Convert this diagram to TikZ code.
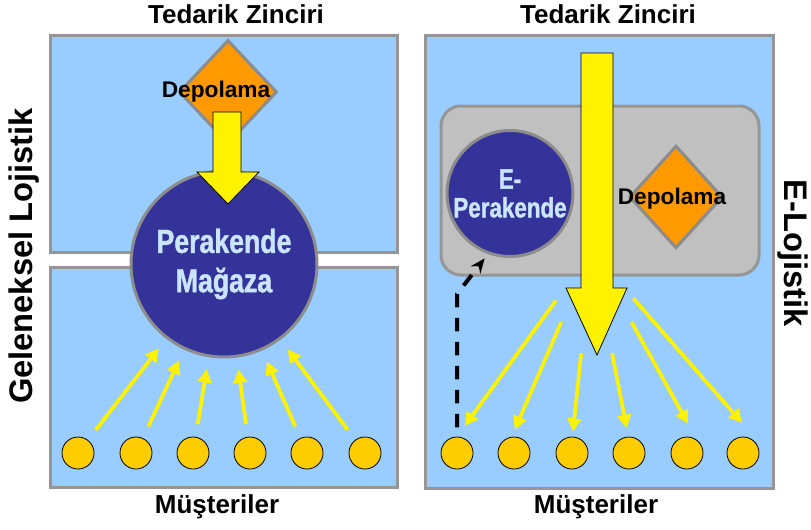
\documentclass[tikz,border=0pt]{standalone}
\usepackage{fontspec}
\setmainfont{Liberation Sans}
\newfontfamily\narrowfont[UprightFont=* Bold, BoldFont=* Bold, FakeStretch=0.8, FakeBold=1.2]{Liberation Sans}
\usetikzlibrary{arrows.meta,shapes.geometric}

\definecolor{skyblue}{RGB}{153,204,255}
\definecolor{panelgray}{RGB}{150,150,150}
\definecolor{ringgray}{RGB}{140,140,140}
\definecolor{shopblue}{RGB}{51,51,153}
\definecolor{shoptext}{RGB}{204,229,255}
\definecolor{depotorange}{RGB}{255,153,0}
\definecolor{custyellow}{RGB}{255,204,0}
\definecolor{hubgray}{RGB}{192,192,192}

\tikzset{
  panel/.style={draw=panelgray, line width=2.25pt, fill=skyblue},
  hubbox/.style={draw=panelgray, line width=2.25pt, fill=hubgray, rounded corners=15pt},
  shop/.style={circle, draw=ringgray, line width=2.25pt, fill=shopblue, text=shoptext, inner sep=0pt, align=center},
  depot/.style={diamond, draw=ringgray, line width=2.25pt, fill=depotorange, inner sep=0pt},
  depotext/.style={font=\bfseries\fontsize{17}{20}\selectfont, inner sep=0pt},
  customer/.style={circle, draw=black, line width=0.6pt, fill=custyellow, minimum size=24pt, inner sep=0pt},
  flow/.style={draw=yellow, line width=2.8pt, -{Triangle[length=10pt,width=10pt]}},
  bigarrow/.style={fill=yellow, draw=black, line width=0.6pt},
  back/.style={draw=black, line width=3pt, dash pattern=on 10pt off 8pt, -{Stealth[length=11pt,width=9pt]}},
  heading/.style={font=\bfseries\fontsize{19.5}{23}\selectfont, inner sep=0pt},
  sidetitle/.style={font=\bfseries\fontsize{24.5}{28}\selectfont, inner sep=0pt},
}

\begin{document}
\begin{tikzpicture}[x=0.75pt,y=0.75pt,yscale=-1]
\useasboundingbox (0,0) rectangle (811,529);

%% left: Geleneksel Lojistik
%supply chain panel
\draw [panel] (50,35) rectangle (397,252);
%customer panel
\draw [panel] (50,267) rectangle (397,487);
%warehouse
\node [depot, minimum width=73.5pt, minimum height=78pt] (depoL) at (228,92) {};
\node [depotext, anchor=base] (depoLtext) at (216,97) {Depolama};
%store
\node [shop, minimum size=139.5pt, font=\narrowfont\fontsize{25}{29.5}\selectfont] (store) at (224,264) {Perakende\\Mağaza};
%supply arrow
\draw [bigarrow] (213,112) -- (241,112) -- (241,172) -- (259,172) -- (228,204) -- (197,172) -- (213,172) -- cycle;
%customers
\foreach \x [count=\i] in {78,136,193,250,307,365}
  \node [customer] (cL\i) at (\x,453) {};
\foreach \i in {1,...,6}
  \draw [flow, shorten <=9.5pt, shorten >=9pt] (cL\i) -- (store);

%% right: E-Lojistik
\draw [panel] (425,35) rectangle (773,488);
\draw [hubbox] (441,106) rectangle (759,275);
%e-shop and warehouse
\node [shop, minimum size=94.5pt, font=\narrowfont\fontsize{21}{21.5}\selectfont] (eshop) at (510,193.5) {E-\\Perakende};
\node [depot, minimum width=70pt, minimum height=77pt] (depoR) at (676,197) {};
\node [depotext, anchor=base] (depoRtext) at (672,204) {Depolama};
%supply arrow
\draw [bigarrow] (581,53) -- (613,53) -- (613,288) -- (627,288) -- (597,355) -- (566,288) -- (581,288) -- cycle;
\coordinate (hub) at (592,251);
%customers
\foreach \x [count=\i] in {457,514,572,629,687,743}
  \node [customer] (cR\i) at (\x,453) {};
\foreach \i/\dx/\sa/\sb in {1/-9/46/25, 2/-7/58/19, 3/-1/77/16, 4/2/78/19, 5/13/61/25, 6/19/47/30}
  \draw [flow, shorten <=\sa pt, shorten >=\sb pt] (hub) -- ([xshift=\dx pt]cR\i.center);
%return path
\coordinate (dashbend) at (458,294);
\draw [back, shorten <=7pt, shorten >=4pt] (cR1) -- (cR1 |- dashbend) -- (eshop.250);

%% titles
\node [heading, anchor=base] (supL) at (236,23) {Tedarik Zinciri};
\node [heading, anchor=base] (supR) at (608,23) {Tedarik Zinciri};
\node [heading, anchor=base] (cusL) at (217,513) {Müşteriler};
\node [heading, anchor=base] (cusR) at (596,513) {Müşteriler};
\node [sidetitle, rotate=90] (trad) at (24,256) {Geleneksel Lojistik};
\node [sidetitle, rotate=-90] (elog) at (793,253) {E-Lojistik};

\end{tikzpicture}
\end{document}
